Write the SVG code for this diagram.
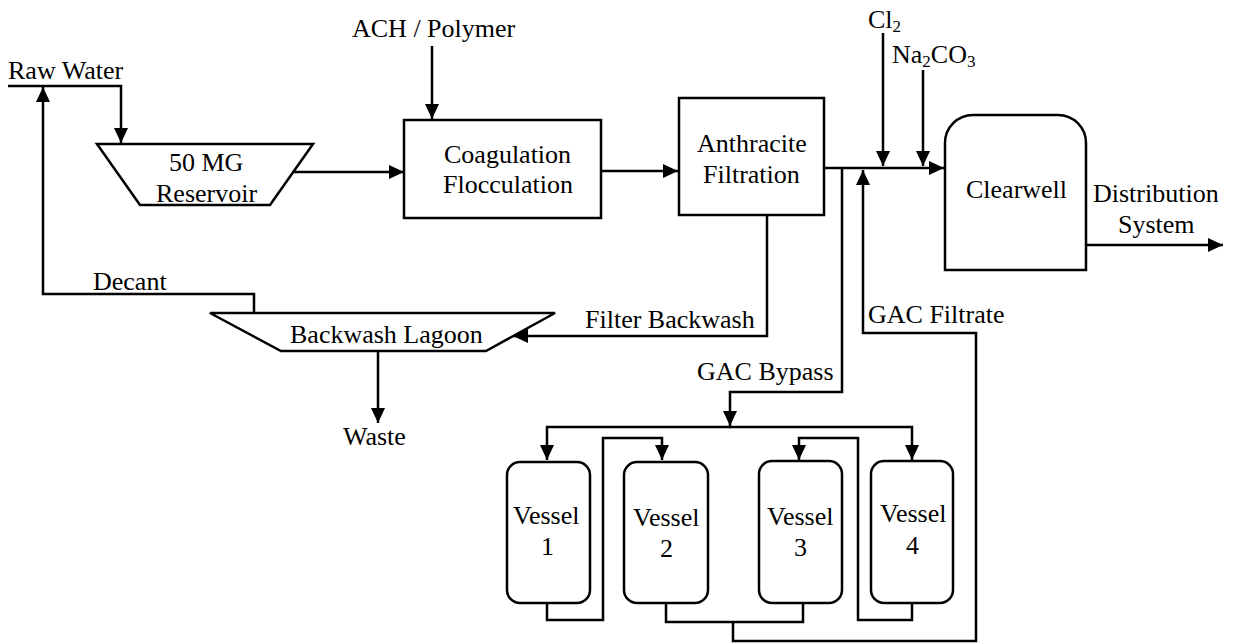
<svg xmlns="http://www.w3.org/2000/svg" width="1234" height="643" viewBox="0 0 1234 643" font-family="Liberation Serif, serif">
<style>
.s{fill:#fff;stroke:#000;stroke-width:2.5}
.c{fill:none;stroke:#000;stroke-width:2.5}
.a{marker-end:url(#ah)}
svg text, svg tspan, text, tspan{font-family:"Liberation Serif","Times New Roman",serif !important;font-size:26px;fill:#000}
svg text tspan.sub{font-size:17px}
</style>
<defs>
<marker id="ah" markerUnits="userSpaceOnUse" markerWidth="16" markerHeight="15" refX="15" refY="7" orient="auto">
<path d="M0,0 L15,7 L0,14 Z" fill="#000"/>
</marker>
</defs>
<rect width="1234" height="643" fill="#fff"/>

<g id="connectors">
<path class="c a" d="M8,86 H121 V143"/>
<path class="c a" d="M254,313 V294 H43 V87"/>
<path class="c a" d="M293,172 H404"/>
<path class="c a" d="M432,46 V119"/>
<path class="c a" d="M601,171 H678"/>
<path class="c a" d="M824,168 H944"/>
<path class="c a" d="M883,33 V166"/>
<path class="c a" d="M923,70 V166"/>
<path class="c a" d="M1086,245 H1223"/>
<path class="c a" d="M767,215 V336 H513"/>
<path class="c a" d="M378,351 V423"/>
<path class="c a" d="M842,168 V392 H730 V426"/>
<path class="c a" d="M731,427 H547 V460"/>
<path class="c a" d="M729,427 H912 V460"/>
<path class="c a" d="M547,603 V620 H603 V438 H662 V460"/>
<path class="c a" d="M912,603 V620 H858 V438 H799 V460"/>
<path class="c" d="M666,603 V622 H803 V603"/>
<path class="c a" d="M733,622 V641 H976 V333 H863 V170"/>
</g>

<g id="raw-water"><text x="8" y="79">Raw Water</text></g>
<g id="ach-polymer"><text x="352" y="37">ACH / Polymer</text></g>
<g id="cl2"><text x="868" y="28">Cl<tspan class="sub" dy="4">2</tspan></text></g>
<g id="na2co3"><text x="892" y="63">Na<tspan class="sub" dy="4">2</tspan><tspan dy="-4">CO</tspan><tspan class="sub" dy="4">3</tspan></text></g>

<g id="reservoir">
<polygon class="s" points="97,144 313,144 270,205 140,205"/>
<text x="169" y="171" font-family="Liberation Serif">50 MG</text>
<text x="156" y="202" font-family="Liberation Serif">Reservoir</text>
</g>

<g id="coagulation">
<rect class="s" x="404" y="120" width="197" height="98"/>
<text x="444" y="163" font-family="Liberation Serif">Coagulation</text>
<text x="443" y="193" font-family="Liberation Serif">Flocculation</text>
</g>

<g id="anthracite">
<rect class="s" x="679" y="98" width="145" height="117"/>
<text x="697" y="152" font-family="Liberation Serif">Anthracite</text>
<text x="703" y="183" font-family="Liberation Serif">Filtration</text>
</g>

<g id="clearwell">
<path class="s" d="M945,270 V143 A28,28 0 0 1 973,115 H1058 A28,28 0 0 1 1086,143 V270 Z"/>
<text x="966" y="198" font-family="Liberation Serif">Clearwell</text>
</g>

<g id="distribution"><text x="1093" y="202" font-family="Liberation Serif">Distribution</text><text x="1118" y="233" font-family="Liberation Serif">System</text></g>

<g id="lagoon">
<polygon class="s" points="210,313 555,313 486,351 281,351"/>
<text x="290" y="343">Backwash Lagoon</text>
</g>

<g id="labels">
<text x="93" y="290">Decant</text>
<text x="585" y="328">Filter Backwash</text>
<text x="343" y="445">Waste</text>
<text x="697" y="380">GAC Bypass</text>
<text x="868" y="323">GAC Filtrate</text>
</g>

<g id="vessel1">
<rect class="s" x="507" y="462" width="83" height="141" rx="13"/>
<text x="513" y="524" font-family="Liberation Serif">Vessel</text><text x="541" y="555" font-family="Liberation Serif">1</text>
</g>
<g id="vessel2">
<rect class="s" x="624" y="462" width="84" height="141" rx="13"/>
<text x="633" y="526" font-family="Liberation Serif">Vessel</text><text x="660" y="557" font-family="Liberation Serif">2</text>
</g>
<g id="vessel3">
<rect class="s" x="759" y="461" width="83" height="142" rx="13"/>
<text x="767" y="525" font-family="Liberation Serif">Vessel</text><text x="794" y="556" font-family="Liberation Serif">3</text>
</g>
<g id="vessel4">
<rect class="s" x="871" y="461" width="82" height="142" rx="13"/>
<text x="880" y="522" font-family="Liberation Serif">Vessel</text><text x="906" y="554" font-family="Liberation Serif">4</text>
</g>
</svg>
